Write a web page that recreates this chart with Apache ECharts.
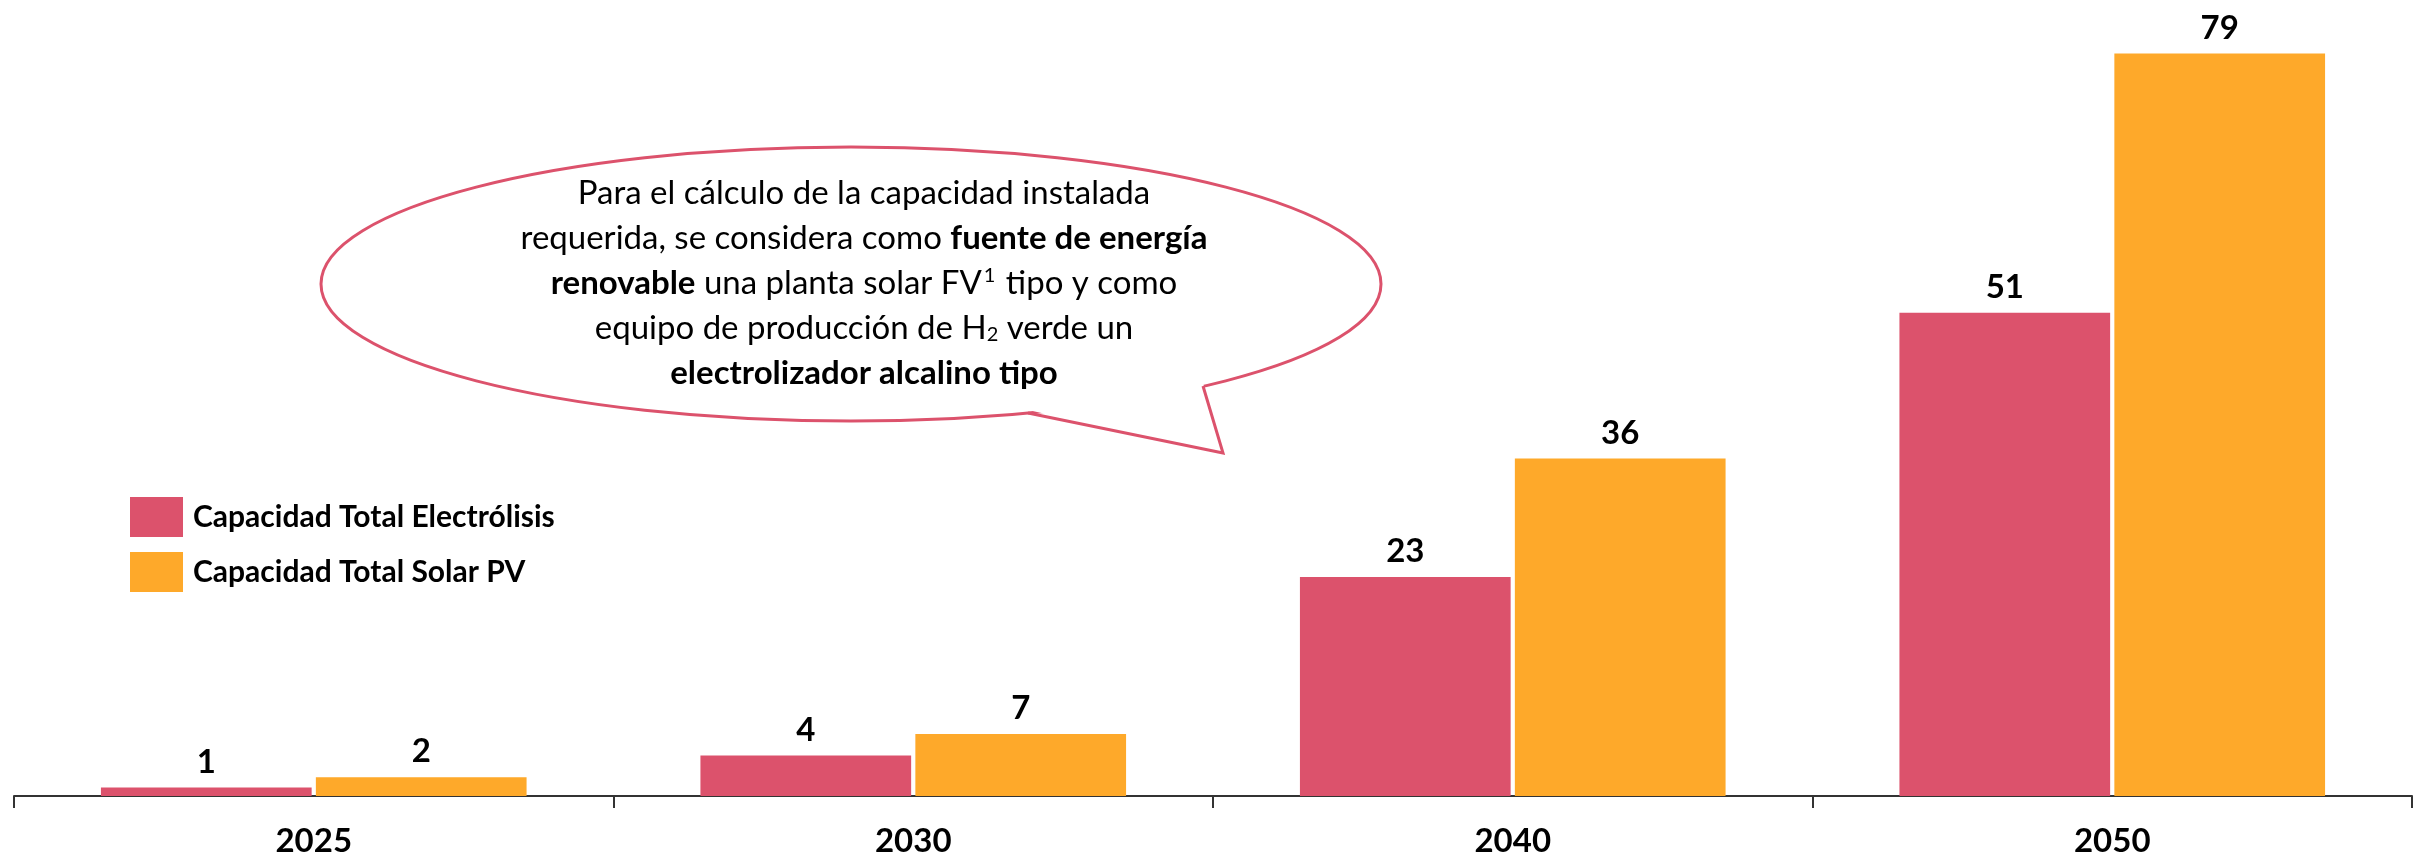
<!DOCTYPE html>
<html>
<head>
<meta charset="utf-8">
<script src="https://cdn.jsdelivr.net/npm/echarts@6/dist/echarts.min.js"></script>
<style>
html,body{margin:0;padding:0;background:#fff;}
#chart{width:2431px;height:858px;}
</style>
</head>
<body>
<div id="chart"></div>
<script>
const categories = ['2025', '2030', '2040', '2050'];
const electrolisis = [0.9, 4.3, 23.3, 51.4];
const solarPV = [2.0, 6.6, 35.9, 79];
const seriesNames = ['Capacidad Total Electrólisis', 'Capacidad Total Solar PV'];
const colors = ['#DC526C', '#FEA92A'];

const chart = echarts.init(document.getElementById('chart'));
const font = 'Lato, "Open Sans", sans-serif';
const red = '#DC526C';

const labelStyle = {
  show: true, position: 'top', distance: 9,
  color: '#000', fontFamily: font, fontWeight: 'bold', fontSize: 33,
  formatter: p => String(Math.round(p.value))
};

const bubbleLines = [
  'Para el cálculo de la capacidad instalada',
  'requerida, se considera como {b|fuente de energía}',
  '{b|renovable} una planta solar FV{sup|1} tipo y como',
  'equipo de producción de H{sub|2} verde un',
  '{b|electrolizador alcalino tipo}'
];
const lineY = [193, 238, 283, 328, 373];
const rich = {
  b: { fontFamily: font, fontWeight: 'bold', fontSize: 33, fill: '#000', color: '#000' },
  sup: { fontFamily: font, fontSize: 20, fill: '#000', color: '#000', padding: [0, 2, 15, 2] },
  sub: { fontFamily: font, fontSize: 20, fill: '#000', color: '#000', padding: [13, 0, 0, 0] }
};

const graphics = [
  { type: 'ellipse', z: 10, shape: { cx: 851, cy: 284, rx: 530, ry: 137 },
    style: { fill: '#fff', stroke: red, lineWidth: 3 } },
  { type: 'polygon', z: 11, shape: { points: [[1203, 383], [1223, 453], [1028, 410]] },
    style: { fill: '#fff', stroke: null } },
  { type: 'polyline', z: 12, shape: { points: [[1203, 386], [1223, 453], [1028, 413]] },
    style: { fill: null, stroke: red, lineWidth: 3, lineJoin: 'miter' } }
];
bubbleLines.forEach((t, i) => {
  graphics.push({
    type: 'text', z: 13, x: 864, y: lineY[i],
    style: {
      text: t, fontFamily: font, fontSize: 33, fill: '#000',
      align: 'center', verticalAlign: 'middle', rich: rich
    }
  });
});

chart.setOption({
  animation: false,
  backgroundColor: '#fff',
  color: colors,
  grid: { left: 14, right: 19, top: 44, bottom: 62, containLabel: false },
  legend: {
    orient: 'vertical', left: 130, top: 497, padding: 0,
    itemWidth: 53, itemHeight: 40, itemGap: 15,
    icon: 'rect',
    textStyle: { fontFamily: font, fontWeight: 'bold', fontSize: 30, color: '#000', padding: [0, 0, 0, 5] },
    data: seriesNames
  },
  xAxis: {
    type: 'category', data: categories,
    axisLine: { show: true, lineStyle: { color: '#333', width: 2 } },
    axisTick: { show: true, length: 12, lineStyle: { color: '#333', width: 2 } },
    axisLabel: { fontFamily: font, fontWeight: 'bold', fontSize: 33, color: '#000', margin: 29 }
  },
  yAxis: { type: 'value', min: 0, max: 80, show: false, splitLine: { show: false } },
  series: [
    { name: seriesNames[0], type: 'bar', data: electrolisis, barGap: '2%', barCategoryGap: '29%',
      itemStyle: { color: colors[0] }, label: labelStyle },
    { name: seriesNames[1], type: 'bar', data: solarPV, barGap: '2%', barCategoryGap: '29%',
      itemStyle: { color: colors[1] }, label: labelStyle }
  ],
  graphic: graphics
});
</script>
</body>
</html>
